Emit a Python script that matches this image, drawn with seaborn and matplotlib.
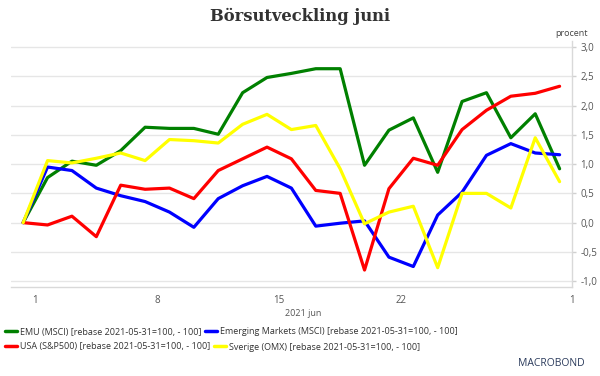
import pandas as pd
import matplotlib.pyplot as plt
import seaborn as sns

sns.set_style("white")
plt.rcParams['font.family'] = ['Open Sans', 'DejaVu Sans']

# trading days, 2021-05-31 .. 2021-06-30
dates = ['05-31', '06-01', '06-02', '06-03', '06-04', '06-07', '06-08', '06-09',
         '06-10', '06-11', '06-14', '06-15', '06-16', '06-17', '06-18', '06-21',
         '06-22', '06-23', '06-24', '06-25', '06-28', '06-29', '06-30']

emu = [0.0, 0.77, 1.05, 0.98, 1.23, 1.63, 1.61, 1.61, 1.51, 2.22, 2.48, 2.55,
       2.63, 2.63, 0.98, 1.58, 1.79, 0.86, 2.07, 2.22, 1.45, 1.86, 0.92]
em = [0.0, 0.95, 0.89, 0.59, 0.46, 0.36, 0.18, -0.08, 0.41, 0.63, 0.79, 0.59,
      -0.06, -0.01, 0.03, -0.59, -0.75, 0.13, 0.52, 1.15, 1.35, 1.19, 1.16]
usa = [0.0, -0.04, 0.11, -0.24, 0.64, 0.57, 0.59, 0.41, 0.89, 1.09, 1.29, 1.09,
       0.55, 0.50, -0.81, 0.58, 1.10, 0.98, 1.59, 1.92, 2.16, 2.21, 2.33]
sve = [0.0, 1.06, 1.02, 1.10, 1.19, 1.06, 1.42, 1.40, 1.36, 1.68, 1.85, 1.59,
       1.66, 0.92, -0.02, 0.18, 0.28, -0.77, 0.50, 0.50, 0.25, 1.45, 0.70]

suffix = ' [rebase 2021-05-31=100, - 100]'
names = ['EMU (MSCI)', 'Emerging Markets (MSCI)', 'USA (S&P500)', 'Sverige (OMX)']
colors = ['#008000', '#0000ff', '#ff0000', '#ffff00']

xtick_pos = [0.5, 5.5, 10.5, 15.5, 22.5]
xtick_labels = ['1', '8', '15', '22', '1']
yticks = [-1.0, -0.5, 0.0, 0.5, 1.0, 1.5, 2.0, 2.5, 3.0]

frames = []
for name, vals in zip(names, [emu, em, usa, sve]):
    frames.append(pd.DataFrame({'pos': range(len(dates)), 'value': vals,
                                'series': name + suffix}))
df = pd.concat(frames, ignore_index=True)

fig = plt.figure(figsize=(6, 3.76), dpi=100)
ax = fig.add_axes([0.0183, 0.2367, 0.9347, 0.6537])

palette = dict(zip([n + suffix for n in names], colors))
sns.lineplot(data=df, x='pos', y='value', hue='series', palette=palette,
             linewidth=2.3, legend=False, ax=ax)

ax.set_xlim(-0.5, 22.5)
ax.set_ylim(-1.1, 3.1)
ax.set_xlabel('')
ax.set_ylabel('')
ax.yaxis.tick_right()
ax.set_yticks(yticks)
ax.set_yticklabels([f'{v:.1f}'.replace('.', ',') for v in yticks])
ax.set_xticks(xtick_pos)
ax.set_xticklabels(xtick_labels)
ax.grid(axis='y', color='#e6e6e6', linewidth=1)
ax.set_axisbelow(True)
for s in ['top', 'left']:
    ax.spines[s].set_visible(False)
for s in ['bottom', 'right']:
    ax.spines[s].set_color('#d9d9d9')
    ax.spines[s].set_linewidth(1)
ax.tick_params(axis='both', colors='#d0d0d0', labelcolor='#555555',
               labelsize=7, length=3, width=1, pad=3)

fig.text(0.5, 0.955, 'Börsutveckling juni', ha='center', va='center',
         fontsize=11.8, fontweight='bold', family=['DejaVu Serif'], color='#333333')
fig.text(0.98, 0.912, 'procent', ha='right', va='center', fontsize=6.5, color='#444444')
fig.text(0.505, 0.167, '2021 jun', ha='center', va='center', fontsize=6.5, color='#555555')

lines = ax.get_lines()
labels = [n + suffix for n in names]
leg_kw = dict(ncol=2, frameon=False, fontsize=6.5, handlelength=1.3,
              handletextpad=0.3, columnspacing=0.45, borderaxespad=0,
              borderpad=0, labelcolor='#333333')
leg1 = fig.legend(lines[0:2], labels[0:2], loc='center left',
                  bbox_to_anchor=(0.009, 1 - 332 / 376), **leg_kw)
leg2 = fig.legend(lines[2:4], labels[2:4], loc='center left',
                  bbox_to_anchor=(0.009, 1 - 347 / 376), **leg_kw)
for leg in (leg1, leg2):
    for h in leg.get_lines():
        h.set_linewidth(2.5)

fig.text(0.975, 1 - 364 / 376, 'MACROBOND', ha='right', va='center', fontsize=7.5,
         color='#2b3b5c')

fig.savefig('out.png', dpi=100)
